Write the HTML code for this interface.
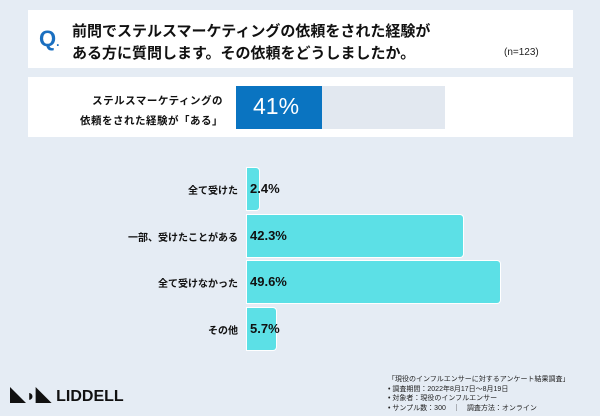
<!DOCTYPE html>
<html><head><meta charset="utf-8"><style>
body{margin:0;width:600px;height:416px;background:#e5ecf4;position:relative;overflow:hidden;font-family:"Liberation Sans","Noto Sans CJK JP",sans-serif;}
.a{position:absolute}
.box{background:#fff}
.lbl{position:absolute;right:362px;font-size:10px;font-weight:bold;color:#111;white-space:nowrap}
.bar{position:absolute;left:247px;height:42px;background:#5ce0e6;border-radius:0 3px 3px 0;box-shadow:0 0 0 1px #fff}
.v{position:absolute;left:250px;font-size:13px;font-weight:bold;color:#111}
</style></head><body>
<div class="a box" style="left:28px;top:10px;width:545px;height:58px"></div>
<div class="a" style="left:39px;top:26px;font-size:22px;font-weight:bold;color:#1a6fc0">Q<span style="font-size:12px">.</span></div>
<div class="a" style="left:72px;top:21px;font-size:15px;font-weight:bold;line-height:22px;color:#111;white-space:nowrap">前問でステルスマーケティングの依頼をされた経験が<br>ある方に質問します。その依頼をどうしましたか。</div>
<div class="a" style="left:504px;top:47px;font-size:10px;color:#222">(n=123)</div>
<div class="a box" style="left:28px;top:77px;width:545px;height:60px"></div>
<div class="a" style="right:377px;top:91px;font-size:10.5px;font-weight:bold;line-height:20px;color:#111;text-align:right;white-space:nowrap;letter-spacing:0.5px">ステルスマーケティングの<br>依頼をされた経験が「ある」</div>
<div class="a" style="left:322px;top:86px;width:123px;height:43px;background:#e2e8f0"></div>
<div class="a" style="left:236px;top:86px;width:86px;height:43px;background:#0a74c1"></div>
<div class="a" style="left:253px;top:93px;font-size:23px;color:#fff">41%</div>
<div class="bar" style="top:168px;width:12px"></div>
<div class="bar" style="top:215px;width:216px"></div>
<div class="bar" style="top:261px;width:253px"></div>
<div class="bar" style="top:308px;width:29px"></div>
<div class="lbl" style="top:182px">全て受けた</div>
<div class="lbl" style="top:229px">一部、受けたことがある</div>
<div class="lbl" style="top:275px">全て受けなかった</div>
<div class="lbl" style="top:322px">その他</div>
<div class="v" style="top:181px">2.4%</div>
<div class="v" style="top:228px">42.3%</div>
<div class="v" style="top:274px">49.6%</div>
<div class="v" style="top:321px">5.7%</div>
<div class="a" style="left:10px;top:382px;font-size:16px;font-weight:bold;color:#111;letter-spacing:0px">◣◗◣ LIDDELL</div>
<div class="a" style="left:388px;top:375px;font-size:7px;line-height:9.5px;color:#222;white-space:nowrap">「現役のインフルエンサーに対するアンケート結果調査」<br>• 調査期間：2022年8月17日〜8月19日<br>• 対象者：現役のインフルエンサー<br>• サンプル数：300　｜　調査方法：オンライン</div>
</body></html>
